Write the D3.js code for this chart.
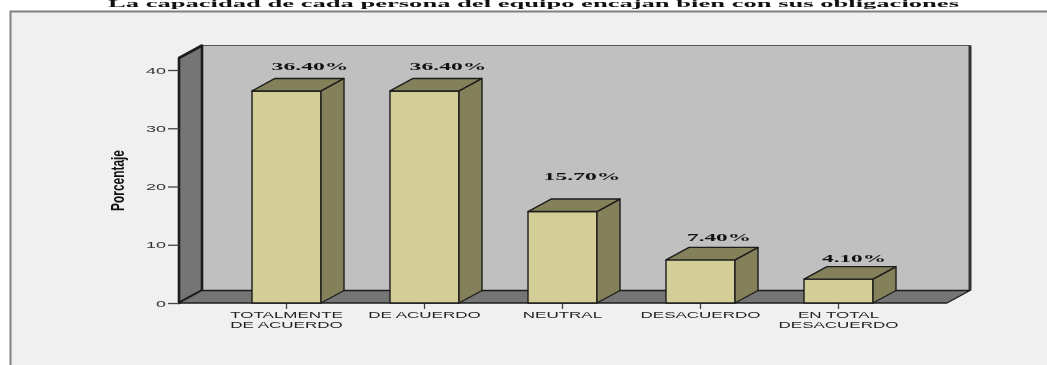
<!DOCTYPE html>
<html><head><meta charset="utf-8">
<style>html,body{margin:0;padding:0;background:#fff;overflow:hidden}svg{display:block;filter:blur(0.4px)}</style>
<script src="https://cdn.jsdelivr.net/npm/d3@7"></script></head>
<body><svg id="c" width="1047" height="365"></svg>
<script>
const categories = [["TOTALMENTE","DE ACUERDO"],["DE ACUERDO"],["NEUTRAL"],["DESACUERDO"],["EN TOTAL","DESACUERDO"]];
const values = [36.4,36.4,15.7,7.4,4.1];
const valueLabels = ["36.40%","36.40%","15.70%","7.40%","4.10%"];
const labelLift = [8,8,19,6,5];
const labelShift = [12,12,8,7,4];
const yTicks = [0,10,20,30,40];
const titleText = "La capacidad de cada persona del equipo encajan bien con sus obligaciones";
const axisLabel = "Porcentaje";

const svg = d3.select("#c");
const W=1047,H=365, dx=23, dy=12.5;
const y = d3.scaleLinear().domain([0,40]).range([303,70]);
const x = d3.scaleBand().domain(d3.range(values.length)).range([183,942]).paddingInner(0.5).paddingOuter(0.5);
const x0=179, x1=947, wallTop=58;
const line="#1c1c1c", wall="#757575", back="#c0c0c0", barF="#d3ce97", barD="#84805a";
const poly=(pts,fill,sw=1.4,st=line)=>svg.append("path").attr("d",d3.line()(pts)+"Z").attr("fill",fill).attr("stroke",st).attr("stroke-width",sw).attr("stroke-linejoin","round");

svg.append("rect").attr("x",10).attr("y",11).attr("width",W-10).attr("height",H-11).attr("fill","#f0f0f0");
svg.append("path").attr("d",`M10.5,${H}V11.5H${W}`).attr("fill","none").attr("stroke","#808080").attr("stroke-width",2);

svg.append("text").text(titleText).attr("x",108).attr("y",6.5)
  .attr("font-family","'Liberation Serif',serif").attr("font-weight","bold").attr("font-size",10).attr("fill","#111")
  .attr("textLength",851).attr("lengthAdjust","spacingAndGlyphs");

// walls and floor
poly([[x0+dx,wallTop-dy],[x1+dx,wallTop-dy],[x1+dx,303-dy],[x0+dx,303-dy]],back,1.2,"#555");
svg.append("path").attr("d",`M${x1+dx},${wallTop-dy}V${303-dy}`).attr("stroke","#333").attr("stroke-width",3);
poly([[x0,wallTop],[x0+dx,wallTop-dy],[x0+dx,303-dy],[x0,303]],wall,2.6);
poly([[x0,303],[x0+dx,303-dy],[x1+dx,303-dy],[x1,303]],wall,1.4);

// y axis
const yAxis = d3.axisLeft(y).tickValues(yTicks).tickSize(11).tickPadding(2).tickFormat(d3.format("d"));
const gy = svg.append("g").attr("transform",`translate(${x0},0)`).call(yAxis);
gy.select(".domain").remove();
gy.selectAll("line").attr("stroke","#444").attr("stroke-width",1.3);
gy.selectAll("text").attr("font-family","'Liberation Sans',sans-serif").attr("font-size",9.5).attr("fill","#333")
  .attr("textLength",d=>d===0?10:20).attr("lengthAdjust","spacingAndGlyphs");

// x ticks
values.forEach((v,i)=>{
  const cx=x(i)+x.bandwidth()/2;
  svg.append("line").attr("x1",cx).attr("x2",cx).attr("y1",303).attr("y2",309).attr("stroke","#444").attr("stroke-width",1.3);
});

// bars
values.forEach((v,i)=>{
  const l=x(i), r=l+x.bandwidth(), t=y(v);
  poly([[l,t],[r,t],[r,303],[l,303]],barF);
  poly([[r,t],[r+dx,t-dy],[r+dx,303-dy],[r,303]],barD);
  poly([[l,t],[l+dx,t-dy],[r+dx,t-dy],[r,t]],barD);
  svg.append("text").text(valueLabels[i]).attr("x",(l+r+dx)/2+labelShift[i]).attr("y",t-dy-labelLift[i])
    .attr("text-anchor","middle").attr("font-family","'Liberation Serif',serif").attr("font-weight","bold")
    .attr("font-size",11).attr("fill","#111")
    .attr("textLength",valueLabels[i].length*12.8).attr("lengthAdjust","spacingAndGlyphs");
  categories[i].forEach((s,j)=>{
    const tx=svg.append("text").text(s).attr("x",(l+r)/2).attr("y",318+j*9.5)
      .attr("text-anchor","middle").attr("font-family","'Liberation Sans',sans-serif").attr("font-size",8.5)
      .attr("fill","#222");
    tx.attr("textLength",tx.node().getComputedTextLength()*2.0).attr("lengthAdjust","spacingAndGlyphs");
  });
});

svg.append("text").text(axisLabel).attr("transform","translate(124,211) rotate(-90)")
  .attr("font-family","'Liberation Sans',sans-serif").attr("font-weight","bold").attr("font-size",19).attr("fill","#111")
  .attr("textLength",61).attr("lengthAdjust","spacingAndGlyphs");
</script></body></html>
